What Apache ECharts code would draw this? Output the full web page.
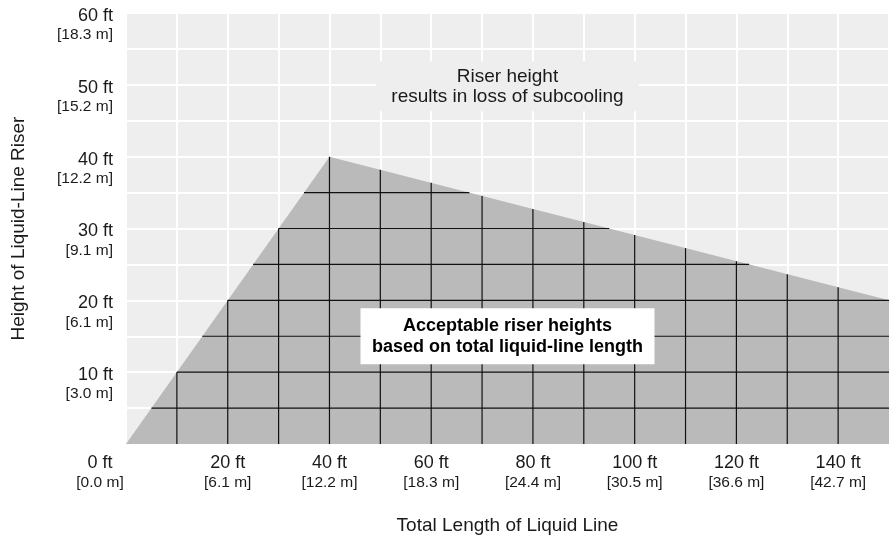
<!DOCTYPE html>
<html>
<head>
<meta charset="utf-8">
<script src="https://cdn.jsdelivr.net/npm/echarts@6/dist/echarts.min.js"></script>
<style>
html,body{margin:0;padding:0;background:#fff;}
#chart{width:889px;height:535px;}
</style>
</head>
<body>
<div id="chart"></div>
<script>
// ---- data ----
const boundaryX = [0, 40, 150];   // ft, total length of liquid line
const boundaryY = [0, 40, 20];    // ft, max riser height
const xTickValues = [0, 20, 40, 60, 80, 100, 120, 140];
const xTickFt = ['0 ft', '20 ft', '40 ft', '60 ft', '80 ft', '100 ft', '120 ft', '140 ft'];
const xTickM = ['[0.0 m]', '[6.1 m]', '[12.2 m]', '[18.3 m]', '[24.4 m]', '[30.5 m]', '[36.6 m]', '[42.7 m]'];
const yTickValues = [10, 20, 30, 40, 50, 60];
const yTickFt = ['10 ft', '20 ft', '30 ft', '40 ft', '50 ft', '60 ft'];
const yTickM = ['[3.0 m]', '[6.1 m]', '[9.1 m]', '[12.2 m]', '[15.2 m]', '[18.3 m]'];
const xGridLines = [10, 20, 30, 40, 50, 60, 70, 80, 90, 100, 110, 120, 130, 140];
const yGridLines = [5, 10, 15, 20, 25, 30, 35];
const annotationX = [75, 75];
const annotationY = [49.8, 15];
const annotationText = ['Riser height\nresults in loss of subcooling', 'Acceptable riser heights\nbased on total liquid-line length'];

// ---- derived ----
function upperY(x) {
  for (let i = 0; i < boundaryX.length - 1; i++) {
    if (x >= boundaryX[i] && x <= boundaryX[i + 1]) {
      const t = (x - boundaryX[i]) / (boundaryX[i + 1] - boundaryX[i]);
      return boundaryY[i] + t * (boundaryY[i + 1] - boundaryY[i]);
    }
  }
  return 0;
}
function leftX(y) {
  return boundaryX[0] + (y - boundaryY[0]) / (boundaryY[1] - boundaryY[0]) * (boundaryX[1] - boundaryX[0]);
}
function rightX(y) {
  if (y <= boundaryY[2]) return boundaryX[2];
  return boundaryX[1] + (y - boundaryY[1]) / (boundaryY[2] - boundaryY[1]) * (boundaryX[2] - boundaryX[1]);
}
const segs = [];
xGridLines.forEach(x => segs.push([x, 0, x, upperY(x)]));
yGridLines.forEach(y => segs.push([leftX(y), y, rightX(y), y]));

const FONT = '"Liberation Sans", Arial, sans-serif';
const TXT = '#1a1a1a';

const annoStyles = [
  { fontSize: 19, fontWeight: 'normal', lineHeight: 20, fill: TXT, backgroundColor: '#eeeeee', padding: [5, 10], width: 243, height: 40 },
  { fontSize: 18, fontWeight: 'bold', lineHeight: 21, fill: '#000000', backgroundColor: '#ffffff', padding: [7, 10], width: 274, height: 42 }
];

const chart = echarts.init(document.getElementById('chart'));
chart.setOption({
  animation: false,
  textStyle: { fontFamily: FONT, color: TXT },
  grid: { left: 126, right: 0, top: 13, bottom: 91, show: true, backgroundColor: '#eeeeee', borderWidth: 0, containLabel: false, outerBoundsMode: 'none' },
  xAxis: {
    type: 'value', min: 0, max: 150, interval: 10,
    axisLine: { show: false }, axisTick: { show: false },
    splitLine: { show: true, lineStyle: { color: '#ffffff', width: 2 } },
    name: 'Total Length of Liquid Line', nameLocation: 'middle', nameGap: 72,
    nameTextStyle: { fontSize: 19, color: TXT, fontFamily: FONT },
    axisLabel: {
      interval: 0, margin: 10, color: TXT, fontFamily: FONT,
      formatter: function (v) {
        const i = xTickValues.indexOf(v);
        if (i < 0) return '';
        if (v === 0) return '{z1|' + xTickFt[i] + '}\n{z2|' + xTickM[i] + '}';
        return '{a|' + xTickFt[i] + '}\n{b|' + xTickM[i] + '}';
      },
      rich: {
        a: { fontSize: 18, lineHeight: 19, color: TXT, fontFamily: FONT },
        b: { fontSize: 15.5, lineHeight: 19, color: TXT, fontFamily: FONT },
        z1: { fontSize: 18, lineHeight: 19, color: TXT, fontFamily: FONT, padding: [0, 52, 0, 0] },
        z2: { fontSize: 15.5, lineHeight: 19, color: TXT, fontFamily: FONT, padding: [0, 52, 0, 0] }
      }
    }
  },
  yAxis: {
    type: 'value', min: 0, max: 60, interval: 5,
    axisLine: { show: false }, axisTick: { show: false },
    splitLine: { show: true, lineStyle: { color: '#ffffff', width: 2 } },
    name: 'Height of Liquid-Line Riser', nameLocation: 'middle', nameGap: 98,
    nameTextStyle: { fontSize: 19, color: TXT, fontFamily: FONT },
    axisLabel: {
      interval: 0, margin: 13, color: TXT, fontFamily: FONT,
      formatter: function (v) {
        const i = yTickValues.indexOf(v);
        if (i < 0) return '';
        return '{e| }\n{a|' + yTickFt[i] + '}\n{b|' + yTickM[i] + '}';
      },
      rich: {
        e: { fontSize: 15, lineHeight: 25 },
        a: { fontSize: 18, lineHeight: 19, color: TXT, fontFamily: FONT, align: 'right' },
        b: { fontSize: 15.5, lineHeight: 19, color: TXT, fontFamily: FONT, align: 'right' }
      }
    }
  },
  series: [
    {
      type: 'line', z: 1,
      data: boundaryX.map((x, i) => [x, boundaryY[i]]),
      symbol: 'none', lineStyle: { width: 0 },
      areaStyle: { color: '#bababa', opacity: 1 },
      silent: true
    },
    {
      type: 'custom', z: 2, silent: true,
      data: segs,
      encode: { x: [0, 2], y: [1, 3] },
      renderItem: function (params, api) {
        const p1 = api.coord([api.value(0), api.value(1)]);
        const p2 = api.coord([api.value(2), api.value(3)]);
        return {
          type: 'line',
          shape: { x1: p1[0], y1: p1[1], x2: p2[0], y2: p2[1] },
          style: { stroke: '#111111', lineWidth: 1.2 }
        };
      }
    },
    {
      type: 'custom', z: 5, silent: true, clip: false,
      data: annotationX.map((x, i) => [x, annotationY[i], i]),
      encode: { x: 0, y: 1 },
      renderItem: function (params, api) {
        const i = api.value(2);
        const p = api.coord([api.value(0), api.value(1)]);
        const s = annoStyles[i];
        return {
          type: 'text',
          x: p[0], y: p[1],
          style: Object.assign({
            text: annotationText[i], fontFamily: FONT,
            align: 'center', verticalAlign: 'middle'
          }, s)
        };
      }
    }
  ]
});
</script>
</body>
</html>
